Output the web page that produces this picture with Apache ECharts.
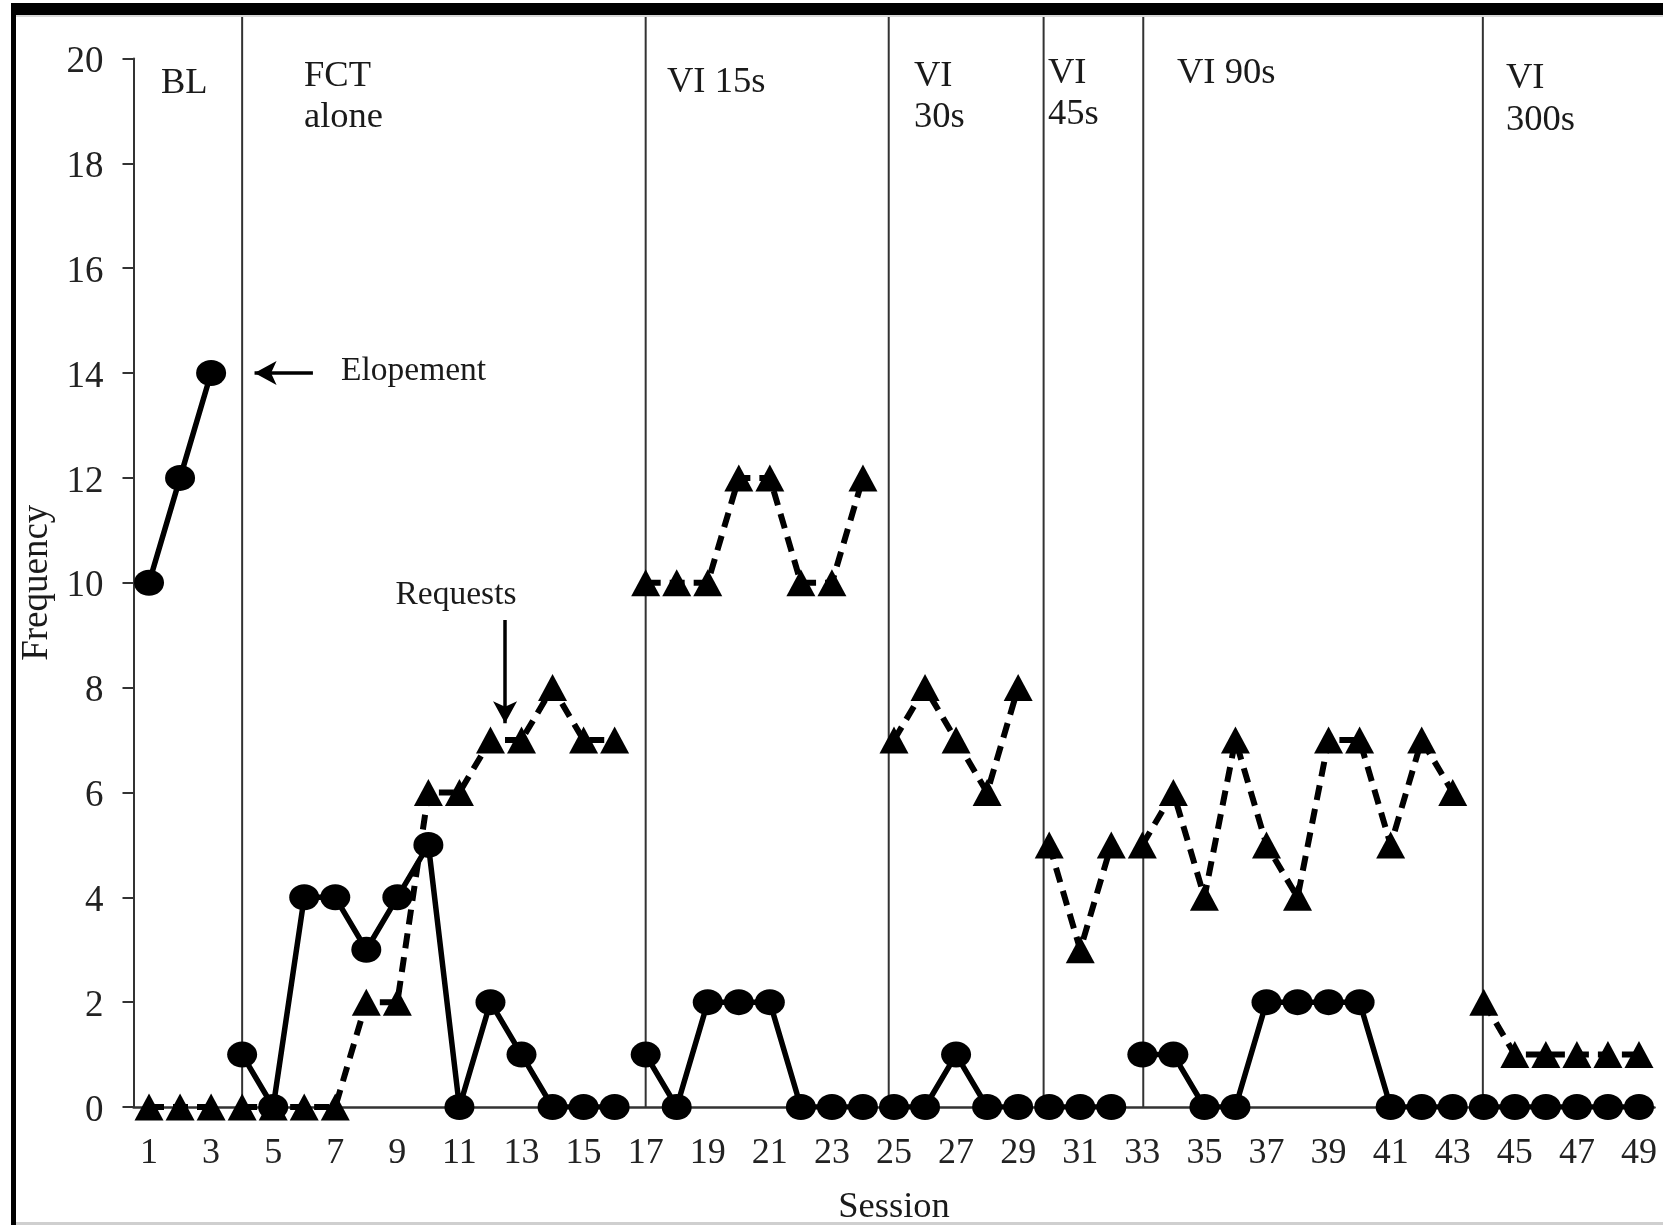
<!DOCTYPE html>
<html>
<head>
<meta charset="utf-8">
<script src="https://cdn.jsdelivr.net/npm/echarts@6/dist/echarts.min.js"></script>
<style>
  html, body { margin: 0; padding: 0; background: #fff; }
  #chart { width: 1663px; height: 1225px; }
</style>
</head>
<body>
<div id="chart"></div>
<script>
// Session numbers (x) and per-session frequencies
const sessions = [1, 2, 3, 4, 5, 6, 7, 8, 9, 10, 11, 12, 13, 14, 15, 16, 17, 18, 19, 20,
  21, 22, 23, 24, 25, 26, 27, 28, 29, 30, 31, 32, 33, 34, 35, 36, 37, 38, 39, 40,
  41, 42, 43, 44, 45, 46, 47, 48, 49];

const elopement = [10, 12, 14,
  1, 0, 4, 4, 3, 4, 5, 0, 2, 1, 0, 0, 0,
  1, 0, 2, 2, 2, 0, 0, 0,
  0, 0, 1, 0, 0,
  0, 0, 0,
  1, 1, 0, 0, 2, 2, 2, 2, 0, 0, 0,
  0, 0, 0, 0, 0, 0];

const requests = [0, 0, 0,
  0, 0, 0, 0, 2, 2, 6, 6, 7, 7, 8, 7, 7,
  10, 10, 10, 12, 12, 10, 10, 12,
  7, 8, 7, 6, 8,
  5, 3, 5,
  5, 6, 4, 7, 5, 4, 7, 7, 5, 7, 6,
  2, 1, 1, 1, 1, 1];

// First session of each condition, and where the condition-change lines are drawn
const phaseStarts = [1, 4, 17, 25, 30, 33, 44];
const phaseLineX = [4, 17, 24.83, 29.82, 33.03, 43.97];

const xTickLabels = [1, 3, 5, 7, 9, 11, 13, 15, 17, 19, 21, 23, 25, 27, 29, 31, 33, 35, 37, 39, 41, 43, 45, 47, 49];
const yTickStep = 2;

const FONT = '"Liberation Serif", "Times New Roman", serif';
const INK = '#000';

// Split one data list into separate line pieces, one per condition
function piecesOf(values) {
  const out = [];
  for (let p = 0; p < phaseStarts.length; p++) {
    const a = phaseStarts[p];
    const b = p + 1 < phaseStarts.length ? phaseStarts[p + 1] - 1 : sessions.length;
    out.push(sessions.slice(a - 1, b).map(s => [s, values[s - 1]]));
  }
  return out;
}

const series = [];

// condition-change lines
series.push({
  type: 'custom',
  clip: false,
  silent: true,
  z: 1,
  data: phaseLineX.map(x => [x]),
  renderItem: function (params, api) {
    const x = api.value(0);
    const p0 = api.coord([x, 0]);
    const p1 = api.coord([x, 20.82]);
    return {
      type: 'line',
      shape: { x1: p0[0], y1: p0[1], x2: p1[0], y2: p1[1] },
      style: { stroke: '#333', lineWidth: 2 }
    };
  }
});

piecesOf(requests).forEach(d => {
  series.push({
    type: 'line',
    data: d,
    symbol: 'triangle',
    symbolSize: [29, 27],
    showAllSymbol: true,
    lineStyle: { color: INK, width: 6, type: [15, 9] },
    itemStyle: { color: INK },
    z: 3,
    animation: false
  });
});

piecesOf(elopement).forEach(d => {
  series.push({
    type: 'line',
    data: d,
    symbol: 'circle',
    symbolSize: [30, 26],
    showAllSymbol: true,
    lineStyle: { color: INK, width: 5.5, type: 'solid' },
    itemStyle: { color: INK },
    z: 4,
    animation: false
  });
});

// annotation arrows
series.push({
  type: 'line',
  data: [],
  silent: true,
  z: 5,
  markLine: {
    silent: true,
    animation: false,
    label: { show: false },
    lineStyle: { color: INK, width: 3.5, type: 'solid' },
    symbol: ['none', 'arrow'],
    symbolSize: [18, 22],
    data: [
      [{ coord: [6.28, 14] }, { coord: [4.4, 14] }],
      [{ coord: [12.47, 9.29] }, { coord: [12.47, 7.32] }]
    ]
  }
});

const chart = echarts.init(document.getElementById('chart'), null, { renderer: 'canvas' });

const textStyle = (size) => ({ font: size + 'px ' + FONT, fill: '#1a1a1a' });

function label(text, x, y, size, align) {
  return {
    type: 'text', x: x, y: y, silent: true, z: 10,
    style: Object.assign(textStyle(size), { text: text, textAlign: align || 'left', textVerticalAlign: 'middle' })
  };
}

chart.setOption({
  backgroundColor: '#fff',
  animation: false,
  grid: { left: 133.5, right: 8.5, top: 58.5, bottom: 118, containLabel: false, outerBoundsMode: 'none' },
  xAxis: {
    type: 'value',
    min: 0.5,
    max: 49.5,
    name: 'Session',
    nameLocation: 'middle',
    nameGap: 82,
    nameTextStyle: { fontFamily: FONT, fontSize: 36.5, color: '#1a1a1a' },
    axisLine: { show: true, lineStyle: { color: '#333', width: 2.5 } },
    axisTick: { show: false },
    splitLine: { show: false },
    axisLabel: {
      customValues: xTickLabels,
      fontFamily: FONT, fontSize: 36, color: '#222', margin: 29
    }
  },
  yAxis: {
    type: 'value',
    min: 0,
    max: 20,
    interval: yTickStep,
    name: 'Frequency',
    nameLocation: 'middle',
    nameGap: 76,
    nameTextStyle: { fontFamily: FONT, fontSize: 37, color: '#1a1a1a' },
    axisLine: { show: true, lineStyle: { color: '#333', width: 2 } },
    axisTick: { show: true, inside: false, length: 11, lineStyle: { color: '#333', width: 2 } },
    splitLine: { show: false },
    axisLabel: {
      margin: 30,
      formatter: '{v|{value}}',
      rich: { v: { fontFamily: FONT, fontSize: 37, color: '#222', padding: [8, 0, 0, 0] } }
    }
  },
  series: series,
  graphic: [
    // frame of the figure
    { type: 'rect', shape: { x: 11, y: 3, width: 1652, height: 12 }, style: { fill: '#000' }, silent: true, z: 20 },
    { type: 'rect', shape: { x: 11, y: 3, width: 5, height: 1222 }, style: { fill: '#000' }, silent: true, z: 20 },
    { type: 'rect', shape: { x: 16, y: 15, width: 1647, height: 2 }, style: { fill: '#d8d8d8' }, silent: true, z: 19 },
    { type: 'rect', shape: { x: 16, y: 1222, width: 1647, height: 3 }, style: { fill: '#cfcfcf' }, silent: true, z: 19 },

    // condition labels
    label('BL', 161, 83, 36.5),
    label('FCT', 304, 76, 36.5),
    label('alone', 304, 117, 36.5),
    label('VI 15s', 667, 82, 36.5),
    label('VI', 914, 76, 36.5),
    label('30s', 914, 117, 36.5),
    label('VI', 1048, 73, 36.5),
    label('45s', 1048, 114, 36.5),
    label('VI 90s', 1177, 73, 36.5),
    label('VI', 1506, 78, 36.5),
    label('300s', 1506, 120, 36.5),

    // annotations
    label('Elopement', 341, 371, 33.5),
    label('Requests', 456, 595, 33.5, 'center')
  ]
});
</script>
</body>
</html>
